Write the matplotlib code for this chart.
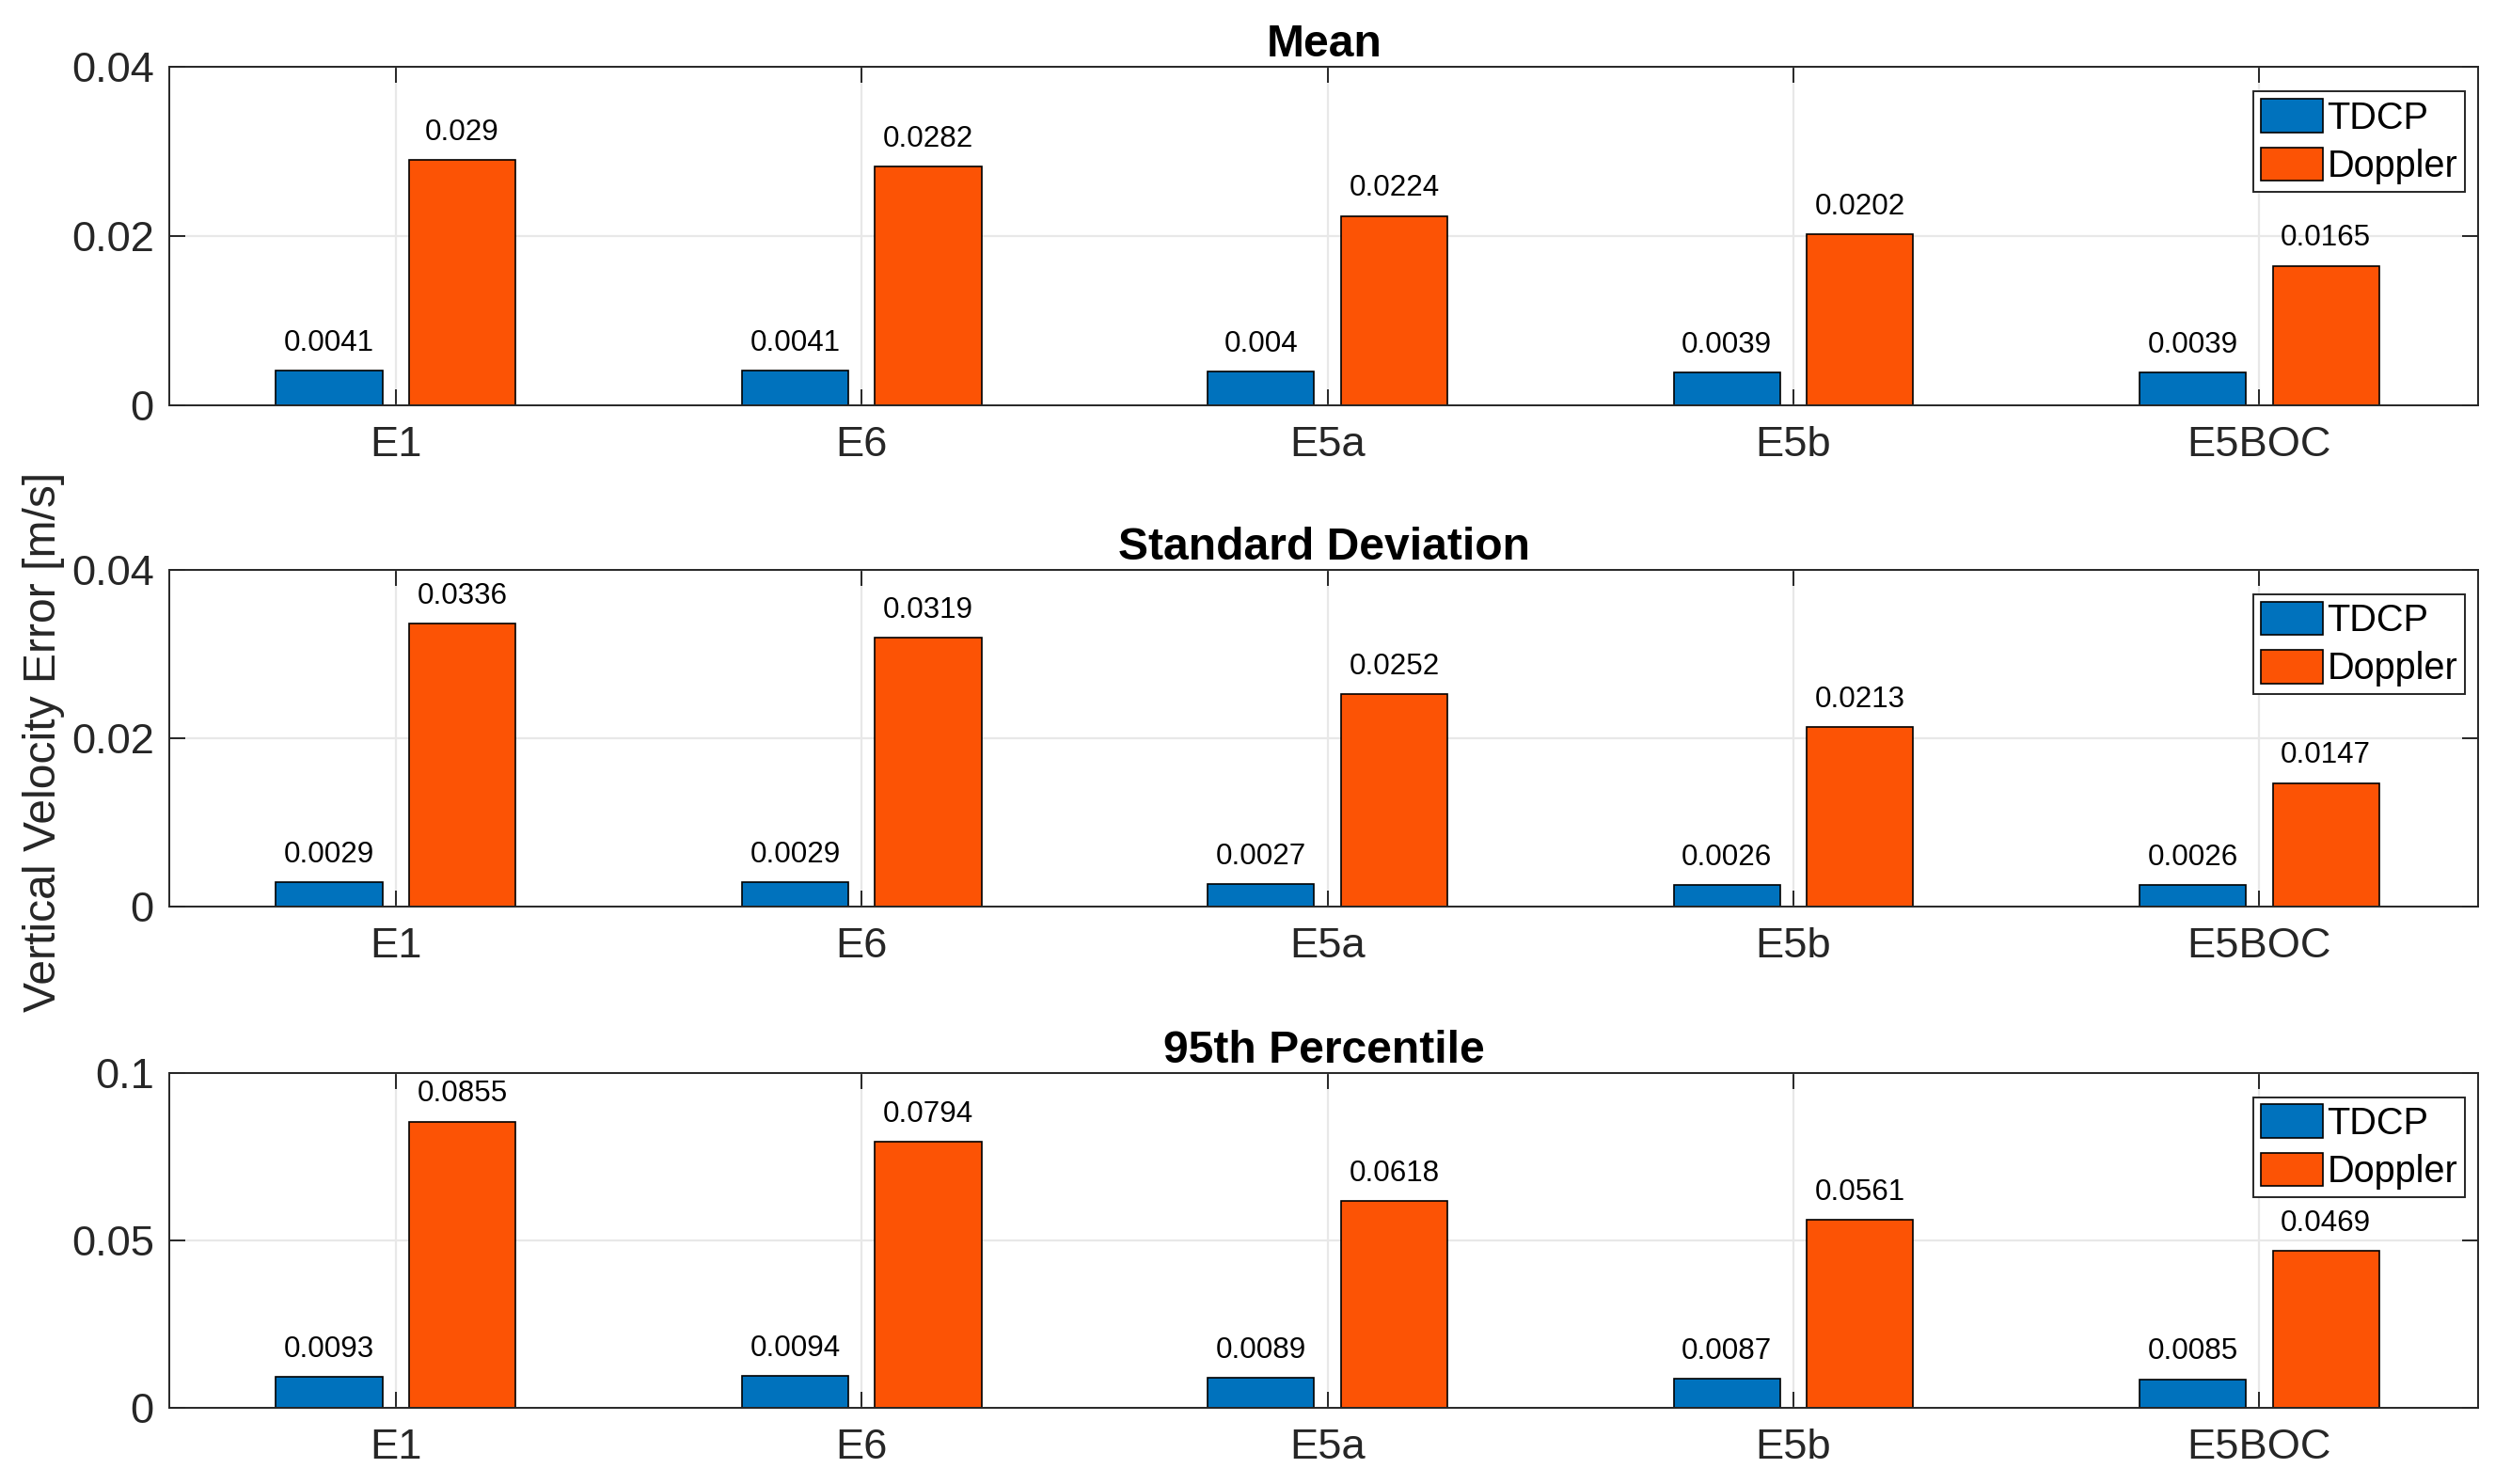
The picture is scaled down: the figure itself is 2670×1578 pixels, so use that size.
import matplotlib
matplotlib.use("Agg")
import matplotlib.pyplot as plt
import numpy as np
from matplotlib.ticker import FuncFormatter

plt.rcParams['font.family'] = ['Liberation Sans', 'DejaVu Sans']

categories = ['E1', 'E6', 'E5a', 'E5b', 'E5BOC']
series_names = ['TDCP', 'Doppler']

mean_tdcp = [0.0041, 0.0041, 0.004, 0.0039, 0.0039]
mean_doppler = [0.029, 0.0282, 0.0224, 0.0202, 0.0165]
std_tdcp = [0.0029, 0.0029, 0.0027, 0.0026, 0.0026]
std_doppler = [0.0336, 0.0319, 0.0252, 0.0213, 0.0147]
p95_tdcp = [0.0093, 0.0094, 0.0089, 0.0087, 0.0085]
p95_doppler = [0.0855, 0.0794, 0.0618, 0.0561, 0.0469]

titles = ['Mean', 'Standard Deviation', '95th Percentile']
yticks_list = [[0, 0.02, 0.04], [0, 0.02, 0.04], [0, 0.05, 0.1]]
ylabel = 'Vertical Velocity Error [m/s]'

panels = [(mean_tdcp, mean_doppler), (std_tdcp, std_doppler), (p95_tdcp, p95_doppler)]

colors = ['#0072BD', '#FC5305']

fig = plt.figure(figsize=(13.35, 7.89), dpi=200)

left, right = 0.0676, 0.987
boxes = [(0.727, 0.9547), (0.389, 0.616), (0.0514, 0.277)]

x = np.arange(1, len(categories) + 1)
bw = 0.2286
offs = [-0.1429, 0.1429]

fmt = FuncFormatter(lambda v, p: '%g' % v)

for (tv, dv), title, yt, (b, t) in zip(panels, titles, yticks_list, boxes):
    ax = fig.add_axes([left, b, right - left, t - b])
    ax.set_axisbelow(True)
    for vals, off, c, name in zip((tv, dv), offs, colors, series_names):
        bars = ax.bar(x + off, vals, width=bw, color=c, edgecolor='black',
                      linewidth=0.6, label=name)
        for rect, v in zip(bars, vals):
            ax.annotate('%g' % v, (rect.get_x() + rect.get_width() / 2, rect.get_height()),
                        xytext=(0, 10.5), textcoords='offset points',
                        ha='center', va='center', fontsize=11.3)
    ax.set_xlim(0.515, 5.47)
    ax.set_ylim(yt[0], yt[-1])
    ax.set_yticks(yt)
    ax.yaxis.set_major_formatter(fmt)
    ax.set_xticks(x)
    ax.set_xticklabels(categories)
    ax.tick_params(axis='both', direction='in', length=6, width=0.7,
                   top=True, right=True, labelsize=16.3, colors='#262626',
                   labelcolor='#262626')
    ax.tick_params(axis='x', pad=8)
    ax.tick_params(axis='y', pad=6)
    ax.grid(True, color='#e8e8e8', linewidth=0.8)
    for s in ax.spines.values():
        s.set_color('#262626')
        s.set_linewidth(0.7)
    ax.set_title(title, fontsize=17.3, fontweight='bold', pad=4)
    leg = ax.legend(loc='upper right', bbox_to_anchor=(0.9943, 0.928),
                    borderaxespad=0, fontsize=14.3, fancybox=False,
                    edgecolor='#262626', framealpha=1, handlelength=1.65,
                    handleheight=1.0, handletextpad=0.12, labelspacing=0.3,
                    borderpad=0.2)
    leg.get_frame().set_linewidth(0.7)

fig.text(0.0175, 0.5, ylabel, rotation=90, ha='center', va='center',
         fontsize=17.3, color='#262626')

fig.savefig('out.png', dpi=200)
